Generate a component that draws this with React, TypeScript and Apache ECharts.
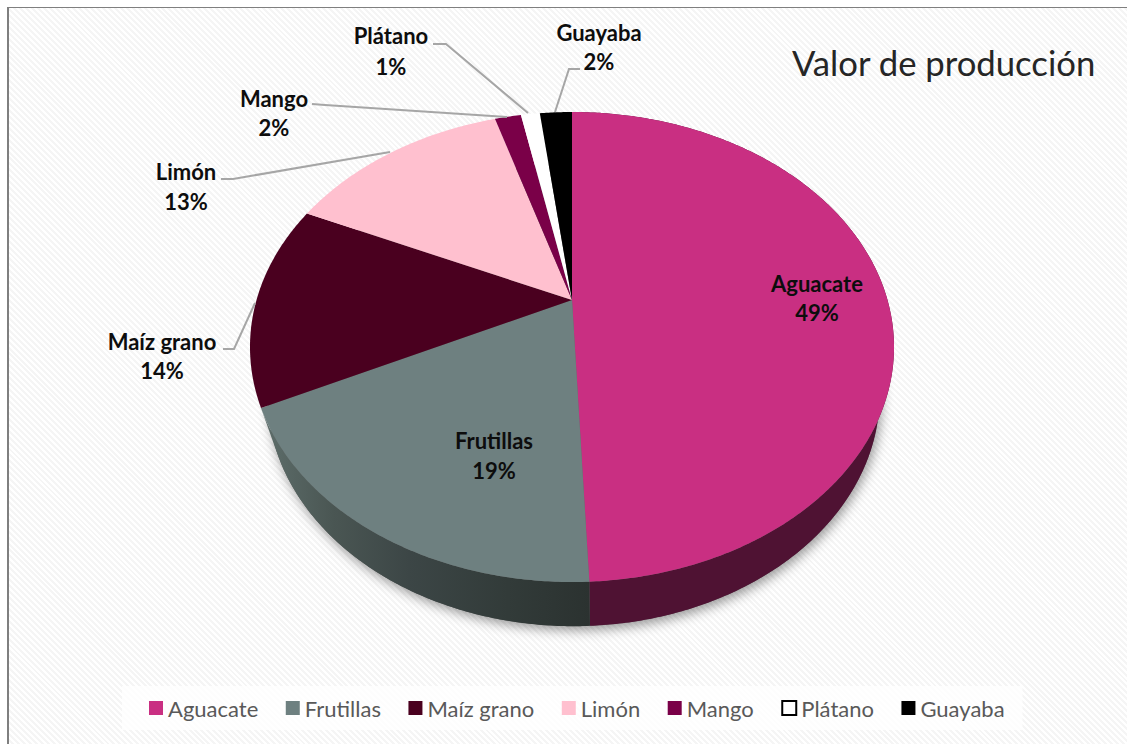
import React, { useEffect, useRef } from "react";
import * as echarts from "echarts";

const categories = ["Aguacate", "Frutillas", "Maíz grano", "Limón", "Mango", "Plátano", "Guayaba"];
const values = [49.3, 18.51, 14.0, 13.49, 1.6, 1.15, 1.95];
const colors = ["#C92F82", "#6E8080", "#4A001F", "#FFC0CF", "#7A0048", "#FFFFFF", "#000000"];
const FONT = "Lato, 'Open Sans', sans-serif";

// perspective of the tilted pie (layout only)
const K = 0.2;
const TOP = { cx: 572, cy: 300, a: 315.5, b: 225.6 };
const BOTTOM = { cx: 573.5, cy: 348.7, a: 300, b: 222 };
// label layout: centre x, y of the first and second line, leader line
const labelLayout: { x: number; y1: number; y2: number; leader?: number[][] }[] = [
  { x: 817, y1: 283.5, y2: 312.5 },
  { x: 494, y1: 440.5, y2: 470.5 },
  { x: 162, y1: 341.5, y2: 370.5, leader: [[223, 349], [234, 349], [255, 303]] },
  { x: 186, y1: 171.5, y2: 201.5, leader: [[221, 179], [233, 179], [390, 152]] },
  { x: 274, y1: 98.5, y2: 127.5, leader: [[312, 104], [325, 105], [507, 117]] },
  { x: 391, y1: 35.5, y2: 66.5, leader: [[433, 44], [446, 44], [528, 113]] },
  { x: 599, y1: 32.5, y2: 61.5, leader: [[580, 69], [569, 69], [555, 112]] },
];

const total = values.reduce((s, v) => s + v, 0);
const startOf = (i: number) => values.slice(0, i).reduce((s, v) => s + v, 0);

function project(p: typeof TOP, fraction: number): number[] {
  const t = fraction * 2 * Math.PI;
  const X = Math.sin(t);
  const Y = -Math.cos(t);
  const d = 1 - K * Y;
  return [p.cx + (p.a * X) / d, p.cy + (p.b * Y) / d];
}

function rim(p: typeof TOP, from: number, to: number): number[][] {
  const n = Math.max(2, Math.ceil((to - from) * 720));
  const pts: number[][] = [];
  for (let i = 0; i <= n; i++) pts.push(project(p, from + ((to - from) * i) / n));
  return pts;
}

function wallStyle(i: number) {
  if (i === 1) {
    return {
      fill: new echarts.graphic.LinearGradient(0, 0, 1, 0, [
        { offset: 0, color: "#5E6E6B" },
        { offset: 0.22, color: "#4A5653" },
        { offset: 0.45, color: "#3C4646" },
        { offset: 0.75, color: "#323B39" },
        { offset: 1, color: "#2B3230" },
      ]),
    };
  }
  return { fill: "#4F1233" };
}

const sliceSeries = categories.map((name, i) => ({
  type: "custom",
  name,
  coordinateSystem: "none",
  z: 3,
  silent: true,
  data: [[values[i]]],
  itemStyle: { color: colors[i] },
  renderItem: (_p: any, api: any) => {
    const from = startOf(i) / total;
    const to = from + api.value(0) / total;
    const pts = [[TOP.cx, TOP.cy], ...rim(TOP, from, to)];
    return { type: "polygon", shape: { points: pts }, style: { fill: colors[i] } };
  },
}));

const wallSeries = {
  type: "custom",
  name: "lados",
  coordinateSystem: "none",
  z: 2,
  silent: true,
  // only the two front slices show a side wall
  data: values.slice(0, 2).map((v) => [v]),
  renderItem: (p: any, api: any) => {
    const i = p.dataIndex;
    const from = startOf(i) / total;
    const to = from + api.value(0) / total;
    const pts = [...rim(TOP, from, to), ...rim(BOTTOM, from, to).reverse()];
    return { type: "polygon", shape: { points: pts }, style: wallStyle(i) };
  },
};

const shadowSeries = {
  type: "custom",
  name: "sombra",
  coordinateSystem: "none",
  z: 1,
  silent: true,
  data: [[total]],
  renderItem: () => ({
    type: "polygon",
    shape: { points: rim(BOTTOM, 0, 1) },
    style: {
      fill: "#666",
      shadowBlur: 12,
      shadowOffsetX: 2,
      shadowOffsetY: 4,
      shadowColor: "rgba(0,0,0,0.4)",
    },
  }),
};

const labelSeries = {
  type: "custom",
  name: "etiquetas",
  coordinateSystem: "none",
  z: 5,
  silent: true,
  data: values.map((v) => [v]),
  renderItem: (p: any, api: any) => {
    const i = p.dataIndex;
    const l = labelLayout[i];
    const pct = Math.round((api.value(0) / total) * 100) + "%";
    const font = `bold 22px ${FONT}`;
    const children: any[] = [
      { type: "text", style: { text: categories[i], x: l.x, y: l.y1, align: "center", verticalAlign: "middle", font, fill: "#0D0D0D" } },
      { type: "text", style: { text: pct, x: l.x, y: l.y2, align: "center", verticalAlign: "middle", font, fill: "#0D0D0D" } },
    ];
    if (l.leader) {
      children.unshift({ type: "polyline", shape: { points: l.leader }, style: { fill: "none", stroke: "#A6A6A6", lineWidth: 2 } });
    }
    return { type: "group", children };
  },
};

export default function App() {
  const ref = useRef<HTMLDivElement>(null);
  useEffect(() => {
    document.body.style.margin = "0";
    const chart = echarts.init(ref.current!, null, { renderer: "svg" });
    chart.setOption({
      animation: false,
      backgroundColor: "transparent",
      title: {
        text: "Valor de producción",
        right: 31,
        top: 45,
        padding: 0,
        textStyle: { fontFamily: FONT, fontSize: 34.7, fontWeight: "normal", color: "#262626" },
      },
      legend: {
        left: 122,
        top: 686,
        padding: [11, 18, 11, 27],
        backgroundColor: "rgba(255,255,255,0.75)",
        itemGap: 27.5,
        itemWidth: 14,
        itemHeight: 14,
        textStyle: { fontFamily: FONT, fontSize: 22, color: "#595959" },
        data: categories.map((name, i) => ({
          name,
          icon: "rect",
          itemStyle:
            i === 5
              ? { color: "#FFFFFF", borderColor: "#000000", borderWidth: 2 }
              : { color: colors[i], borderWidth: 0 },
        })),
      },
      series: [shadowSeries, wallSeries, ...sliceSeries, labelSeries],
    });
    return () => chart.dispose();
  }, []);
  return (
    <div style={{ position: "relative", width: 1127, height: 744, overflow: "hidden", background: "#fff" }}>
      <div
        style={{
          position: "absolute",
          left: 7,
          top: 7,
          right: 0,
          bottom: 0,
          borderLeft: "2px solid #7F7F7F",
          borderTop: "1px solid #7F7F7F",
          background: "repeating-linear-gradient(45deg, #FFFFFF 0 2.1px, #F5F5F5 2.1px 4.2px)",
        }}
      />
      <div ref={ref} style={{ position: "absolute", left: 0, top: 0, width: 1127, height: 744 }} />
    </div>
  );
}
